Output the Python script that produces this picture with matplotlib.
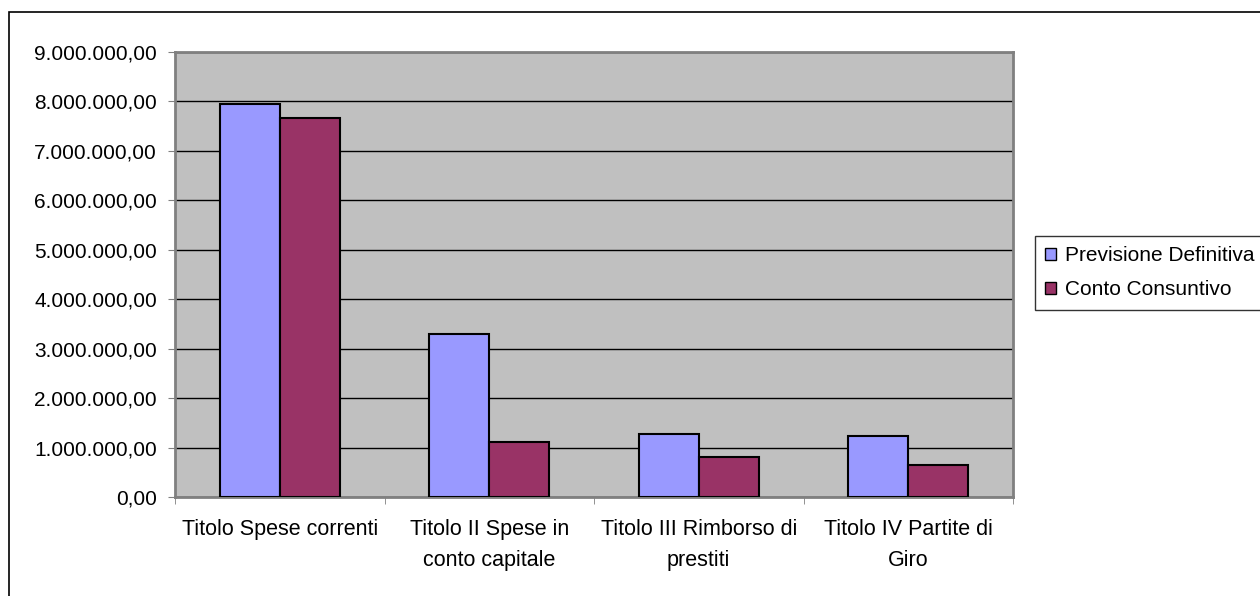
import matplotlib
matplotlib.use("Agg")
import matplotlib.pyplot as plt
from matplotlib.patches import Rectangle
from matplotlib.ticker import FuncFormatter, MultipleLocator
import numpy as np

plt.rcParams['font.family'] = ['Liberation Sans', 'DejaVu Sans']

categorie = ["Titolo Spese correnti", "Titolo II Spese in\nconto capitale",
             "Titolo III Rimborso di\nprestiti", "Titolo IV Partite di\nGiro"]
previsione = [7950000, 3300000, 1280000, 1240000]
consuntivo = [7660000, 1110000, 800000, 640000]
serie = ["Previsione Definitiva", "Conto Consuntivo"]


def euro(v, pos=None):
    s = f"{v:,.2f}"
    return s.replace(",", "X").replace(".", ",").replace("X", ".")


fig = plt.figure(figsize=(12.6, 5.96), dpi=100)
ax = fig.add_axes([175 / 1260, 1 - 497 / 596, 838 / 1260, 445 / 596])

# chart area border, open on the right and bottom
fig.patches.append(Rectangle((9 / 1260, -0.1), 1.2, 1 - 12 / 596 + 0.1,
                             transform=fig.transFigure, fill=False,
                             edgecolor="black", linewidth=1.2))

ax.set_facecolor("#C0C0C0")
x = np.arange(len(categorie))
w = 1 / 3.5
ax.bar(x - w / 2, previsione, w, color="#9999FF", edgecolor="black",
       linewidth=1.5, label=serie[0], zorder=3)
ax.bar(x + w / 2, consuntivo, w, color="#993366", edgecolor="black",
       linewidth=1.5, label=serie[1], zorder=3)

ax.set_xlim(-0.5, len(categorie) - 0.5)
ax.set_ylim(0, 9000000)
ax.yaxis.set_major_locator(MultipleLocator(1000000))
ax.yaxis.set_major_formatter(FuncFormatter(euro))
ax.grid(axis="y", color="black", linewidth=1, zorder=1)

ax.set_xticks(x)
ax.set_xticklabels(categorie, fontsize=15.5, linespacing=1.6)
ax.tick_params(axis="x", length=0, pad=16)
ax.set_xticks(np.arange(len(categorie) + 1) - 0.5, minor=True)
ax.tick_params(axis="x", which="minor", length=5, color="#808080")
ax.tick_params(axis="y", length=5, color="#808080", labelsize=15, pad=8)

for s in ax.spines.values():
    s.set_color("#808080")
    s.set_linewidth(2)

leg = fig.legend(loc="upper left", bbox_to_anchor=(1035 / 1260, 1 - 236 / 596),
                 fontsize=15, frameon=True, fancybox=False,
                 edgecolor="black", handlelength=0.53, handleheight=0.53,
                 handletextpad=0.42, borderpad=0.5, labelspacing=0.72,
                 borderaxespad=0)
leg.get_frame().set_linewidth(1)
for h in leg.legend_handles:
    h.set_linewidth(1)

fig.savefig("out.png", dpi=100)
